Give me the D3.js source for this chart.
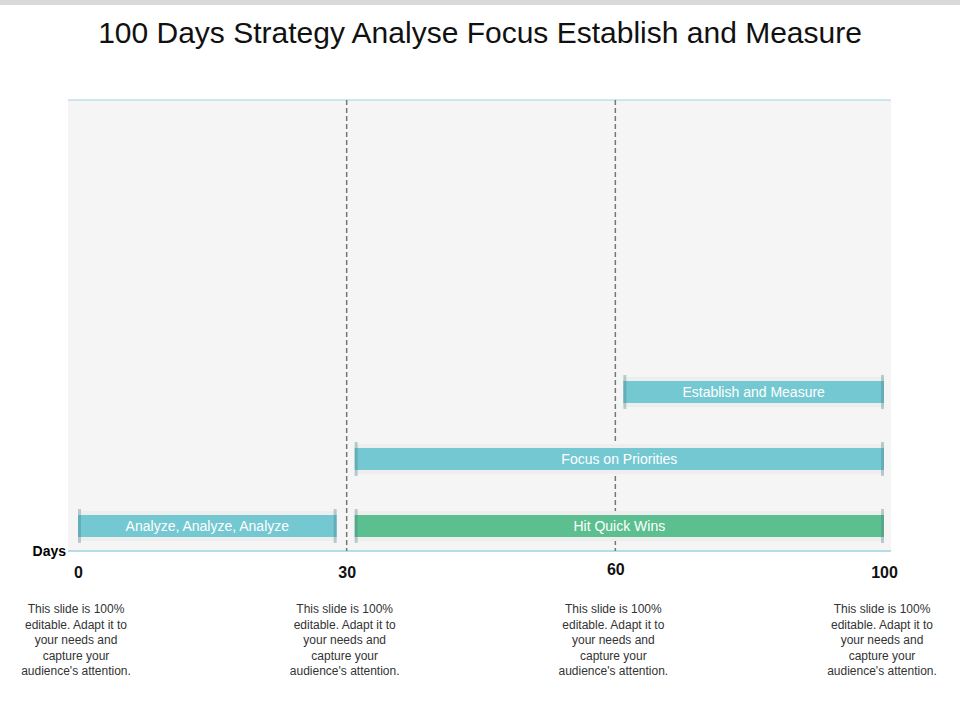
<!DOCTYPE html>
<html><head><meta charset="utf-8">
<script src="https://cdn.jsdelivr.net/npm/d3@7"></script>
<style>body{margin:0;background:#fff;font-family:Arial,"Liberation Sans",sans-serif}</style>
</head><body><svg id="c" width="960" height="720"></svg>
<script>
const ticks = ["0","30","60","100"];
const tasks = ["Analyze, Analyze, Analyze","Hit Quick Wins","Focus on Priorities","Establish and Measure"];
const taskStart = ["0","30","30","60"];
const taskEnd = ["30","100","100","100"];
const taskRow = [0,0,1,2];
const taskColor = ["#74c8d2","#5bbf8f","#74c8d2","#74c8d2"];
const dashedAt = ["30","60"];
const note = ["This slide is 100%","editable. Adapt it to","your needs and","capture your","audience's attention."];

(function(){
const svg = d3.select("#c");
svg.append("rect").attr("x",0).attr("y",0).attr("width",960).attr("height",5).attr("fill","#d9d9d9");
svg.append("text").attr("x",480).attr("y",43).attr("text-anchor","middle").attr("font-size",30).attr("fill","#111").text("100 Days Strategy Analyse Focus Establish and Measure");

const x = d3.scalePoint().domain(ticks).range([78,884]);
const y = d3.scalePoint().domain([0,1,2]).range([526,392]);
const pTop=100,pBottom=551,pLeft=68,pRight=891;
svg.append("rect").attr("x",pLeft).attr("y",pTop).attr("width",pRight-pLeft).attr("height",pBottom-pTop).attr("fill","#f5f5f5");
svg.append("line").attr("x1",pLeft).attr("x2",pRight).attr("y1",pTop).attr("y2",pTop).attr("stroke","#9fd3e0");
svg.append("line").attr("x1",pLeft).attr("x2",pRight).attr("y1",pBottom).attr("y2",pBottom).attr("stroke","#9fd3e0").attr("stroke-width",1.5);
dashedAt.forEach(d=>svg.append("line").attr("x1",x(d)).attr("x2",x(d)).attr("y1",pTop).attr("y2",pBottom).attr("stroke","#777").attr("stroke-width",1.5).attr("stroke-dasharray","5,3"));

const bh=22;
tasks.forEach((t,i)=>{
  const x0 = x(taskStart[i]) + (taskStart[i]==="0"?0:8), x1 = x(taskEnd[i]) - (taskEnd[i]==="100"?0:10);
  const yc = y(taskRow[i]);
  svg.append("rect").attr("x",x0).attr("y",yc-bh/2-4).attr("width",x1-x0).attr("height",bh+8).attr("fill","#eeeeee");
  svg.append("rect").attr("x",x0).attr("y",yc-bh/2).attr("width",x1-x0).attr("height",bh).attr("fill",taskColor[i]);
  [x0,x1-3].forEach(cx=>svg.append("rect").attr("x",cx).attr("y",yc-bh/2-6).attr("width",3).attr("height",bh+12).attr("fill","#4a7f88").attr("opacity",0.35));
  svg.append("text").attr("x",(x0+x1)/2).attr("y",yc+5).attr("text-anchor","middle").attr("font-size",14).attr("fill","#fff").text(t);
});

svg.append("text").attr("x",66).attr("y",556).attr("text-anchor","end").attr("font-size",14).attr("font-weight","bold").text("Days");
const ax = svg.append("g").attr("transform",`translate(0,${pBottom})`).call(d3.axisBottom(x).tickSize(0).tickPadding(16));
ax.select(".domain").remove();
ax.selectAll("text").attr("font-size",16).attr("font-weight","bold").attr("fill","#111").attr("font-family","Arial,'Liberation Sans',sans-serif");
ax.selectAll(".tick").filter(d=>d==="60").select("text").attr("dy","0.5em");

ticks.forEach(d=>{
  const tx = svg.append("text").attr("text-anchor","middle").attr("font-size",12).attr("fill","#333");
  note.forEach((l,j)=>tx.append("tspan").attr("x",x(d)-2).attr("y",613+j*15.5).text(l));
});
})();
</script></body></html>
